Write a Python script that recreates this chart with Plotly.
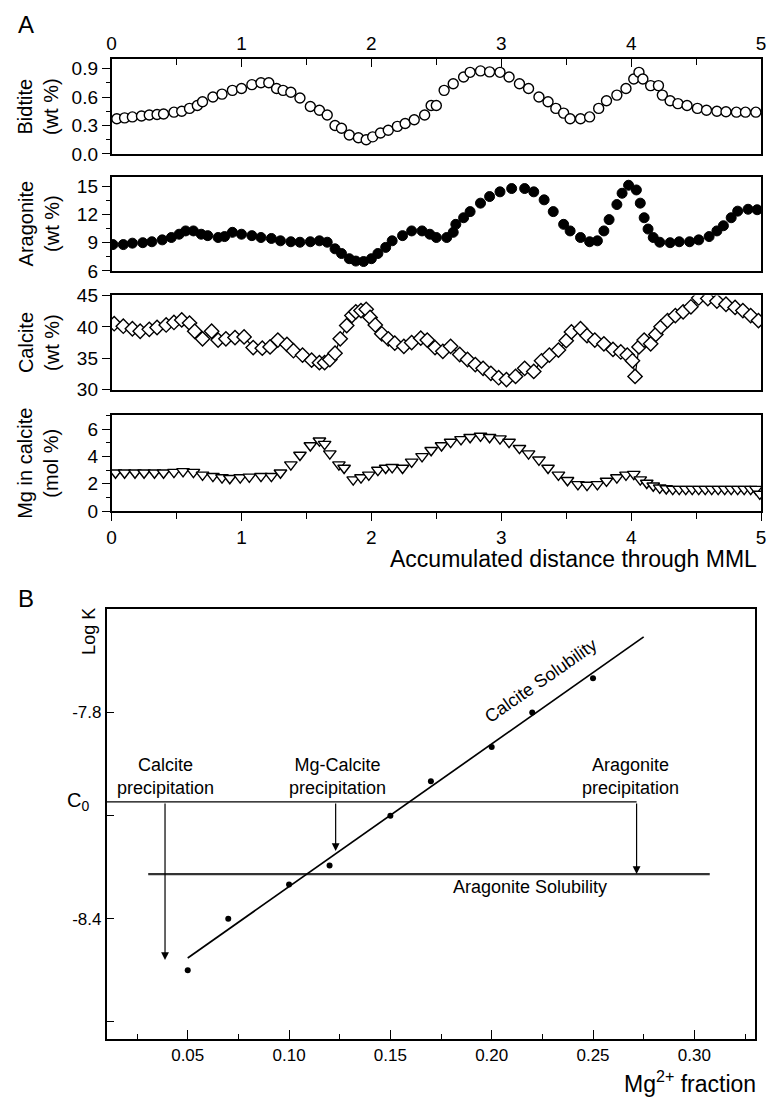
import plotly.graph_objects as go

# ---------------- Panel A data ----------------
bio_x = [0.04,0.10,0.16,0.23,0.29,0.35,0.40,0.48,0.54,0.60,0.66,0.70,0.78,0.85,0.93,1.00,1.08,1.15,1.21,1.27,
         1.32,1.38,1.45,1.53,1.60,1.66,1.72,1.77,1.83,1.90,1.96,2.01,2.07,2.13,2.20,2.26,2.33,2.41,2.46,2.50,
         2.56,2.63,2.71,2.76,2.84,2.91,2.99,3.06,3.14,3.21,3.29,3.36,3.42,3.48,3.53,3.61,3.68,3.75,3.81,3.89,
         3.96,4.02,4.06,4.09,4.15,4.21,4.24,4.30,4.36,4.43,4.51,4.58,4.66,4.73,4.81,4.88,4.96]
bio_y = [0.37,0.38,0.39,0.40,0.41,0.415,0.42,0.44,0.45,0.48,0.51,0.55,0.60,0.63,0.67,0.69,0.73,0.75,0.75,0.69,
         0.67,0.65,0.59,0.50,0.46,0.41,0.30,0.27,0.20,0.17,0.15,0.18,0.22,0.25,0.29,0.32,0.36,0.41,0.51,0.51,
         0.67,0.74,0.81,0.86,0.875,0.865,0.86,0.81,0.74,0.69,0.60,0.55,0.48,0.43,0.37,0.37,0.39,0.48,0.56,0.62,
         0.69,0.79,0.86,0.79,0.72,0.72,0.62,0.56,0.53,0.51,0.48,0.46,0.45,0.445,0.44,0.44,0.44]

ara_x = [0.01,0.09,0.16,0.24,0.31,0.39,0.46,0.52,0.57,0.63,0.69,0.74,0.82,0.87,0.93,1.00,1.08,1.15,1.23,1.30,
         1.38,1.45,1.53,1.60,1.66,1.72,1.77,1.83,1.88,1.94,2.00,2.05,2.11,2.16,2.24,2.31,2.39,2.45,2.50,2.58,
         2.63,2.65,2.71,2.76,2.84,2.91,2.99,3.08,3.18,3.25,3.33,3.40,3.48,3.53,3.61,3.68,3.74,3.79,3.83,3.89,
         3.93,3.98,4.04,4.07,4.10,4.13,4.17,4.22,4.30,4.37,4.45,4.52,4.60,4.66,4.71,4.77,4.82,4.90,4.97]
ara_y = [8.8,8.8,8.95,9.0,9.1,9.3,9.55,9.9,10.25,10.25,9.9,9.75,9.55,9.65,10.1,9.9,9.75,9.55,9.45,9.2,
         9.1,9.05,9.1,9.2,9.05,8.35,7.85,7.3,7.05,7.0,7.3,7.85,8.5,9.2,9.75,10.25,10.25,9.9,9.55,9.55,
         10.1,10.95,11.65,12.3,13.2,13.9,14.4,14.75,14.75,14.4,13.55,12.3,10.95,10.25,9.55,9.1,9.2,10.25,11.45,13.05,
         14.25,15.1,14.6,13.2,11.65,10.45,9.55,9.05,9.0,9.1,9.1,9.3,9.65,10.25,10.8,11.65,12.35,12.55,12.5]

cal_x = [0.02,0.09,0.16,0.22,0.29,0.35,0.42,0.48,0.54,0.60,0.64,0.70,0.77,0.82,0.88,0.95,1.02,1.09,1.16,1.22,
         1.28,1.35,1.40,1.47,1.54,1.60,1.64,1.68,1.72,1.76,1.81,1.85,1.88,1.92,1.96,1.99,2.03,2.08,2.13,2.18,
         2.25,2.31,2.38,2.43,2.49,2.55,2.61,2.68,2.74,2.80,2.86,2.92,2.98,3.04,3.11,3.18,3.25,3.31,3.37,3.44,
         3.50,3.54,3.61,3.66,3.72,3.79,3.86,3.92,3.97,4.01,4.03,4.06,4.10,4.15,4.19,4.23,4.28,4.34,4.40,4.46,
         4.52,4.59,4.66,4.73,4.80,4.86,4.92,4.98]
cal_y = [40.5,40.1,39.7,39.3,39.6,39.9,40.3,40.7,41.1,40.6,39.3,38.1,39.3,37.9,38.1,38.3,38.4,36.7,36.6,36.8,
         37.9,37.2,36.2,35.5,34.7,34.3,34.3,34.8,35.8,38.1,40.2,41.8,42.4,42.6,42.8,41.5,40.3,38.9,38.1,37.4,
         36.9,37.5,38.2,37.9,36.7,36.1,36.9,35.6,34.8,34.0,33.4,32.6,31.9,31.6,32.1,33.4,32.9,34.6,35.5,36.3,
         37.8,39.2,39.7,38.6,37.9,37.3,36.4,36.0,35.5,34.6,32.1,36.8,37.9,37.3,38.8,40.0,41.0,41.8,42.4,43.2,
         44.6,44.5,44.1,43.6,43.1,42.6,41.8,41.0]

mg_x = [0.03,0.10,0.18,0.25,0.33,0.40,0.48,0.55,0.63,0.70,0.78,0.85,0.91,0.99,1.06,1.15,1.23,1.30,1.38,1.45,
        1.53,1.60,1.64,1.68,1.75,1.79,1.86,1.92,1.98,2.05,2.11,2.16,2.24,2.31,2.39,2.46,2.54,2.61,2.69,2.76,
        2.84,2.91,2.99,3.06,3.14,3.21,3.29,3.36,3.44,3.51,3.59,3.66,3.74,3.81,3.89,3.96,4.02,4.07,4.12,4.17,
        4.22,4.27,4.32,4.37,4.42,4.47,4.52,4.57,4.62,4.67,4.72,4.77,4.82,4.87,4.92,4.96,4.99]
mg_y = [2.8,2.8,2.8,2.8,2.8,2.8,2.85,2.9,2.85,2.65,2.55,2.45,2.4,2.45,2.5,2.55,2.55,2.8,3.4,4.1,
        4.8,5.15,4.9,4.2,3.4,3.15,2.3,2.45,2.65,3.0,3.15,3.2,3.15,3.6,4.0,4.45,4.8,5.05,5.25,5.4,
        5.5,5.4,5.3,5.05,4.6,4.2,3.75,3.15,2.65,2.25,1.95,1.9,1.95,2.2,2.45,2.65,2.7,2.3,2.05,1.85,
        1.7,1.65,1.6,1.6,1.6,1.6,1.6,1.6,1.6,1.6,1.6,1.6,1.6,1.6,1.6,1.6,1.25]

dist_ticks = [0, 1, 2, 3, 4, 5]
bio_ticks = [0.0, 0.3, 0.6, 0.9]
ara_ticks = [6, 9, 12, 15]
cal_ticks = [30, 35, 40, 45]
mg_ticks = [0, 2, 4, 6]

# ---------------- Panel B data ----------------
mg_frac = [0.05, 0.07, 0.10, 0.12, 0.15, 0.17, 0.20, 0.22, 0.25]
log_k = [-8.55, -8.40, -8.30, -8.245, -8.10, -8.00, -7.90, -7.80, -7.70]
fit_x = [0.05, 0.275]
fit_y = [-8.514, -7.58]
c0_level = -8.06
c0_x = [0.01, 0.2715]
arag_sol_level = -8.27
arag_sol_x = [0.0305, 0.3076]
arrow_x = [0.0388, 0.123, 0.2715]
arrow_tip = [-8.52, -8.203, -8.27]
frac_ticks = [0.05, 0.10, 0.15, 0.20, 0.25, 0.30]
frac_minor = [0.025, 0.075, 0.125, 0.175, 0.225, 0.275, 0.325]
logk_ticks = [-7.8, -8.1, -8.4, -8.7]
logk_labels = ["-7.8", "", "-8.4", ""]

# ---------------- layout helpers ----------------
W, H = 771, 1106
FONT = "Liberation Sans, Arial, sans-serif"

def fx(p):
    return p / W

def fy(p):
    return 1 - p / H

dom_xA = [fx(108), fx(766)]
dom_y1 = [fy(146.7), fy(50)]
dom_y2 = [fy(266), fy(170)]
dom_y3 = [fy(387), fy(291)]
dom_y4 = [fy(510.7), fy(413.3)]
dom_xB = [fx(103), fx(760)]
dom_yB = [fy(1049), fy(611)]

fig = go.Figure()

mk_line = dict(color="black", width=1.4)
fig.add_trace(go.Scatter(x=bio_x, y=bio_y, mode="markers", xaxis="x", yaxis="y",
                         marker=dict(symbol="circle", size=10, color="white", line=mk_line)))
fig.add_trace(go.Scatter(x=ara_x, y=ara_y, mode="markers", xaxis="x2", yaxis="y2",
                         marker=dict(symbol="circle", size=10, color="black", line=dict(color="black", width=1))))
fig.add_trace(go.Scatter(x=cal_x, y=cal_y, mode="lines+markers", xaxis="x3", yaxis="y3",
                         line=dict(color="black", width=1.2),
                         marker=dict(symbol="diamond", size=11, color="white", line=mk_line)))
fig.add_trace(go.Scatter(x=mg_x, y=mg_y, mode="markers", xaxis="x4", yaxis="y4",
                         marker=dict(symbol="triangle-down", size=11, color="white", line=mk_line)))

# Panel B traces
fig.add_trace(go.Scatter(x=c0_x, y=[c0_level, c0_level], mode="lines", xaxis="x5", yaxis="y5",
                         line=dict(color="black", width=1.3)))
fig.add_trace(go.Scatter(x=arag_sol_x, y=[arag_sol_level, arag_sol_level], mode="lines", xaxis="x5", yaxis="y5",
                         line=dict(color="#333333", width=2.2)))
fig.add_trace(go.Scatter(x=fit_x, y=fit_y, mode="lines", xaxis="x5", yaxis="y5",
                         line=dict(color="black", width=1.7)))
fig.add_trace(go.Scatter(x=mg_frac, y=log_k, mode="markers", xaxis="x5", yaxis="y5",
                         marker=dict(symbol="circle", size=6, color="black")))

tickfont = dict(family=FONT, size=19, color="black")
common = dict(showline=True, linecolor="black", linewidth=1.6, mirror=True, showgrid=False,
              zeroline=False, tickfont=tickfont, tickcolor="black", tickwidth=1.4,
              ticklabeloverflow="allow")

def yA(dom, anchor, rng, ticks, minor_dt=None, fmt=None):
    d = dict(common, domain=dom, anchor=anchor, range=rng, tickmode="array", tickvals=ticks,
             ticks="outside", ticklen=8)
    if fmt:
        d["ticktext"] = [fmt.format(t) for t in ticks]
    if minor_dt:
        d["minor"] = dict(dtick=minor_dt, tick0=rng[0], ticks="outside", ticklen=4,
                          tickcolor="black", tickwidth=1.2, showgrid=False)
    return d

def xA(anchor, show, side="bottom", ticks=""):
    d = dict(common, domain=dom_xA, anchor=anchor, range=[0, 5], side=side)
    if show:
        d.update(tickmode="array", tickvals=dist_ticks, ticks=ticks, ticklen=8,
                 minor=dict(dtick=0.5, tick0=0, ticks=ticks, ticklen=6, tickcolor="black",
                            tickwidth=1.2, showgrid=False))
    else:
        d.update(showticklabels=False, ticks="")
    return d

fig.update_layout(
    width=W, height=H, margin=dict(l=0, r=0, t=0, b=0),
    paper_bgcolor="white", plot_bgcolor="white", showlegend=False,
    font=dict(family=FONT, color="black"),
    xaxis=xA("y", True, side="top", ticks="inside"),
    xaxis2=xA("y2", False),
    xaxis3=xA("y3", False),
    xaxis4=xA("y4", True, side="bottom", ticks="outside"),
    yaxis=yA(dom_y1, "x", [0, 1.0], bio_ticks, 0.15, "{:.1f}"),
    yaxis2=yA(dom_y2, "x2", [6, 16], ara_ticks, 1.5),
    yaxis3=yA(dom_y3, "x3", [30, 45], cal_ticks),
    yaxis4=yA(dom_y4, "x4", [0, 7], mg_ticks, 1),
    xaxis5=dict(common, domain=dom_xB, anchor="y5", range=[0.01, 0.33], tickmode="array",
                tickvals=frac_ticks, ticktext=["{:.2f}".format(t) for t in frac_ticks],
                ticks="inside", ticklen=9, tickfont=dict(family=FONT, size=17, color="black"),
                minor=dict(tickmode="array", tickvals=frac_minor, ticks="inside", ticklen=5,
                           tickcolor="black", tickwidth=1.2, showgrid=False)),
    yaxis5=dict(common, domain=dom_yB, anchor="x5", range=[-8.75, -7.5], tickmode="array",
                tickvals=logk_ticks, ticktext=logk_labels, ticks="inside", ticklen=8,
                tickfont=dict(family=FONT, size=17, color="black")),
)

ann = []
def txt(text, x, y, size, xref="paper", yref="paper", angle=0, xanchor="center", yanchor="middle", **kw):
    a = dict(text=text, x=x, y=y, xref=xref, yref=yref, showarrow=False, textangle=angle,
             xanchor=xanchor, yanchor=yanchor, font=dict(family=FONT, size=size, color="black"))
    a.update(kw)
    ann.append(a)

# Panel letters
txt("A", fx(21), fy(15), 24)
txt("B", fx(21), fy(600), 24)

# Panel A y titles
ycent = lambda d: (d[0] + d[1]) / 2
txt("Bidtite<br>(wt %)", fx(34), ycent(dom_y1), 20, angle=-90)
txt("Aragonite<br>(wt %)", fx(34), ycent(dom_y2), 20, angle=-90)
txt("Calcite<br>(wt %)", fx(34), ycent(dom_y3), 20, angle=-90)
txt("Mg in calcite<br>(mol %)", fx(34), ycent(dom_y4), 20, angle=-90)
txt("Accumulated distance through MML", fx(764), fy(560), 23, xanchor="right")

# Panel B labels
txt("Log K", fx(85), fy(633), 18, angle=-90)
txt("Mg<sup>2+</sup> fraction", fx(763), fy(1093), 23, xanchor="right")
txt("C<sub>0</sub>", fx(74), c0_level, 20, yref="y5")
for label, xv in [("Calcite<br>precipitation", 0.039), ("Mg-Calcite<br>precipitation", 0.1237),
                  ("Aragonite<br>precipitation", 0.2686)]:
    txt(label, xv, -7.987, 18, xref="x5", yref="y5")
txt("Aragonite Solubility", 0.2188, -8.309, 18, xref="x5", yref="y5")
txt("Calcite Solubility", 0.2241, -7.709, 18, xref="x5", yref="y5", angle=-35)

for xv, tip in zip(arrow_x, arrow_tip):
    ann.append(dict(x=xv, y=tip, ax=xv, ay=c0_level, xref="x5", yref="y5", axref="x5", ayref="y5",
                    text="", showarrow=True, arrowhead=2, arrowsize=1.3, arrowwidth=1.2,
                    arrowcolor="black", standoff=0, startstandoff=0))

fig.update_layout(annotations=ann)
fig.write_html("out.html", config={"displayModeBar": False},
               post_script="document.body.style.margin='0px';document.body.style.overflow='hidden';")
